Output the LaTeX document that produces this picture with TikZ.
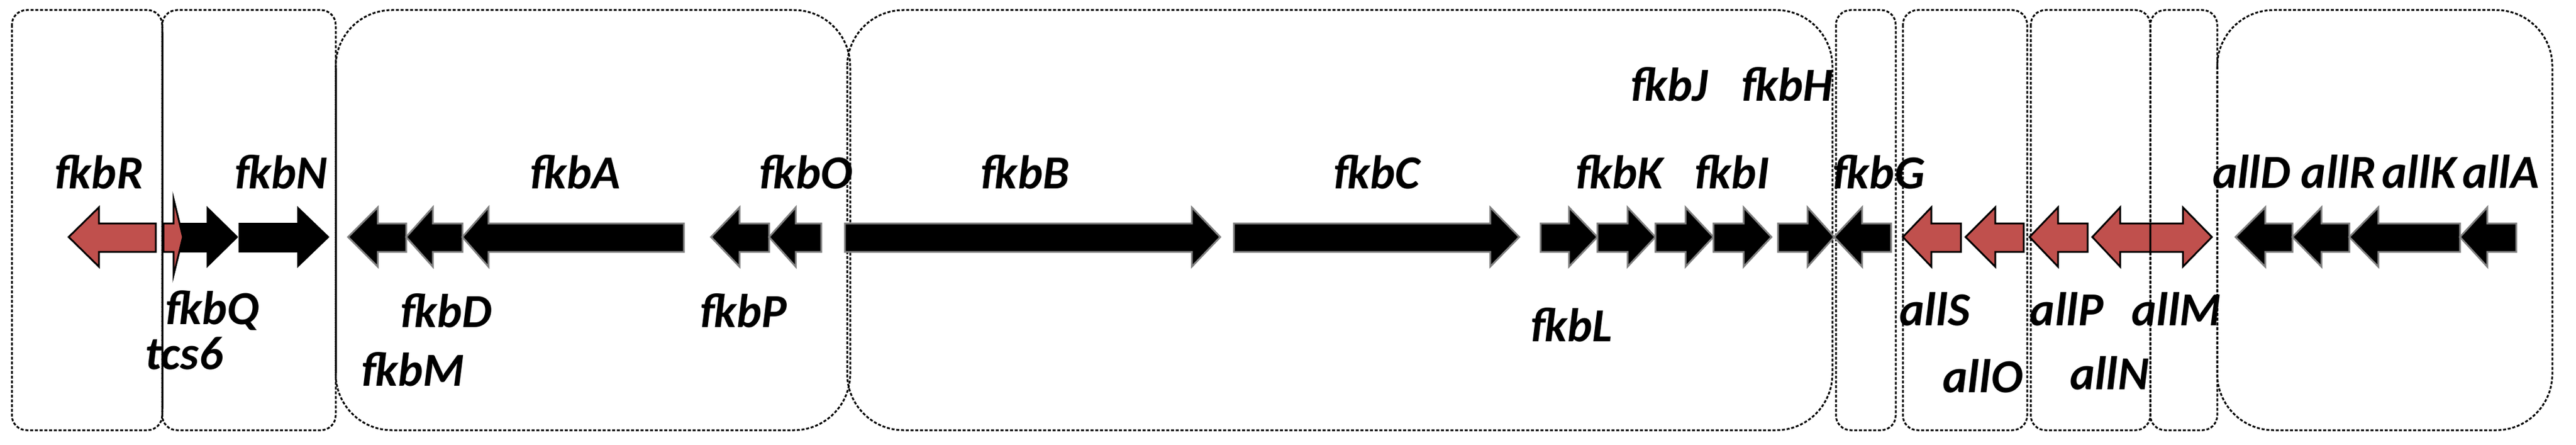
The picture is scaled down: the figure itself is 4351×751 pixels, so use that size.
\documentclass[tikz,border=0pt]{standalone}
\usepackage{fontspec}
\setmainfont{Carlito}
\definecolor{gred}{RGB}{192,80,77}
\tikzset{
 box/.style={draw, line width=3pt, dash pattern=on 5pt off 3pt},
 sbox/.style={box, rounded corners=25pt},
 bbox/.style={box, rounded corners=95pt},
 blk/.style={fill=black, draw=black!50, line width=3pt},
 blk2/.style={fill=black, draw=black, line width=2pt},
 redg/.style={fill=gred, draw=black, line width=3pt},
 lab/.style={font=\fontsize{80}{90}\selectfont\bfseries\itshape, inner sep=0pt}
}
\newcommand{\gene}[4]{\path[#4] (#1,377) -- (#2,377) -- (#2,350) -- (#3,400) -- (#2,450) -- (#2,425) -- (#1,425) -- cycle;}
\begin{document}
\begin{tikzpicture}[x=1pt,y=-1pt]
\useasboundingbox (0,0) rectangle (4351,751);
% boxes
\draw[sbox] (20,17) rectangle (274,726);
\draw[sbox] (274,17) rectangle (567,726);
\draw[bbox] (567,17) rectangle (1436,726);
\draw[bbox] (1431,17) rectangle (3095,726);
\draw[sbox] (3101,17) rectangle (3202,726);
\draw[sbox] (3214,17) rectangle (3424,726);
\draw[sbox] (3430,17) rectangle (3632,726);
\draw[sbox] (3632,17) rectangle (3745,726);
\draw[bbox] (3745,17) rectangle (4311,726);
\draw[line width=3pt] (274,55) -- (274,690);
\draw[line width=3pt] (567,115) -- (567,630);
% genes
\gene{263}{167}{116}{redg}
\gene{404}{503}{555}{blk2}
\gene{276}{350}{401}{blk2}
\path[redg] (276,377) -- (293,377) -- (293,335) -- (309,400) -- (293,465) -- (293,425) -- (276,425) -- cycle;
\gene{686}{638}{588}{blk}
\gene{781}{731}{686}{blk}
\gene{1155}{825}{781}{blk}
\gene{1299}{1249}{1201}{blk}
\gene{1387}{1344}{1299}{blk}
\gene{1427}{2013}{2061}{blk}
\gene{2084}{2517}{2566}{blk}
\gene{2602}{2650}{2698}{blk}
\gene{2698}{2749}{2796}{blk}
\gene{2796}{2847}{2894}{blk}
\gene{2894}{2945}{2992}{blk}
\gene{3003}{3053}{3098}{blk}
\gene{3194}{3145}{3098}{blk}
\gene{3312}{3262}{3214}{redg}
\gene{3418}{3370}{3320}{redg}
\gene{3526}{3476}{3428}{redg}
\gene{3632}{3581}{3534}{redg}
\gene{3632}{3687}{3736}{redg}
\gene{3872}{3826}{3776}{blk}
\gene{3968}{3921}{3872}{blk}
\gene{4155}{4017}{3968}{blk}
\gene{4250}{4201}{4155}{blk}
% labels
\node[lab] (lR) at (167,290) {fkbR};
\node[lab] (lN) at (474,290) {fkbN};
\node[lab] (lA) at (971,290) {fkbA};
\node[lab] (lO) at (1361,290) {fkbO};
\node[lab] (lB) at (1731,290) {fkbB};
\node[lab] (lC) at (2325,290) {fkbC};
\node[lab] (lK) at (2735,290) {fkbK};
\node[lab] (lI) at (2925,290) {fkbI};
\node[lab] (lG) at (3173,290) {fkbG};
\node[lab] (lJ) at (2819,142) {fkbJ};
\node[lab] (lH) at (3018,142) {fkbH};
\node[lab] (lQ) at (358,524) {fkbQ};
\node[lab] (l6) at (311,596) {tcs6};
\node[lab] (lD) at (753,524) {fkbD};
\node[lab] (lM) at (697,623) {fkbM};
\node[lab] (lP) at (1255,524) {fkbP};
\node[lab] (lL) at (2654,548) {fkbL};
\node[lab] (aS) at (3268,522) {allS};
\node[lab] (aO) at (3349,635) {allO};
\node[lab] (aP) at (3491,522) {allP};
\node[lab] (aN) at (3563,630) {allN};
\node[lab] (aM) at (3676,522) {allM};
\node[lab] (aD) at (3803,290) {allD};
\node[lab] (aR) at (3950,290) {allR};
\node[lab] (aK) at (4086,290) {allK};
\node[lab] (aA) at (4224,290) {allA};
\end{tikzpicture}
\end{document}
